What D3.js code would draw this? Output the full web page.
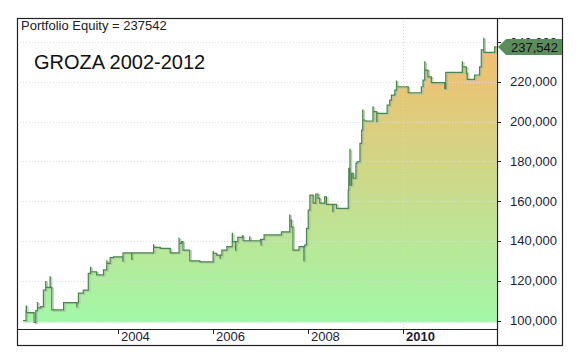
<!DOCTYPE html>
<meta charset="utf-8">
<style>
  body { margin: 0; background: #fff; }
  svg text { font-family: Arial, "Liberation Sans", sans-serif; }
</style>
<body>
<script src="https://cdn.jsdelivr.net/npm/d3@7"></script>
<script>
var dates = ["2002-01-01","2002-01-24","2002-01-26","2002-01-27","2002-03-27","2002-04-09","2002-04-22","2002-04-23",
  "2002-05-17","2002-06-07","2002-06-25","2002-06-26","2002-07-28","2002-07-29","2002-08-10","2002-11-09",
  "2003-02-19","2003-02-20","2003-03-03","2003-04-10","2003-05-18","2003-06-05","2003-06-06","2003-07-21",
  "2003-09-12","2003-10-07","2003-10-08","2003-10-09","2003-11-02","2003-11-28","2004-02-08","2004-02-09",
  "2004-04-16","2004-04-17","2004-10-01","2004-10-02","2004-11-21","2005-02-06","2005-04-15","2005-04-16",
  "2005-05-03","2005-05-15","2005-07-06","2005-09-22","2006-01-02","2006-01-03","2006-01-28","2006-02-25",
  "2006-02-26","2006-03-10","2006-04-18","2006-05-29","2006-05-30","2006-06-24","2006-06-25","2006-07-11",
  "2006-08-15","2006-08-20","2006-10-10","2006-10-11","2007-01-01","2007-01-05","2007-01-06","2007-01-29",
  "2007-06-11","2007-08-14","2007-08-15","2007-08-27","2007-09-08","2007-10-24","2007-12-01","2007-12-02",
  "2007-12-08","2007-12-21","2008-01-03","2008-01-16","2008-02-10","2008-03-01","2008-03-19","2008-04-01",
  "2008-05-09","2008-05-22","2008-07-10","2008-07-11","2008-08-08","2008-11-06","2008-11-10","2008-11-11",
  "2008-11-19","2008-11-20","2008-12-02","2008-12-14","2009-01-04","2009-01-12","2009-02-04","2009-02-17",
  "2009-02-25","2009-02-26","2009-03-13","2009-05-15","2009-05-16","2009-06-13","2009-06-14","2009-09-01",
  "2009-09-21","2009-10-04","2009-10-30","2009-11-12","2009-11-13","2010-02-10","2010-05-22","2010-06-04",
  "2010-06-17","2010-06-18","2010-07-12","2010-08-07","2010-11-18","2010-11-26","2011-04-02","2011-04-03",
  "2011-05-03","2011-05-10","2011-07-05","2011-08-13","2011-08-26","2011-09-14","2011-09-15","2011-12-07",
  "2011-12-22"];

var equity = [100000,105000,107300,104000,99000,105000,109000,106300,
  107000,115300,119500,116700,122000,116700,105300,109000,
  106800,109000,113800,115300,123700,126700,124500,122900,
  125400,128700,130000,128700,131600,132000,129800,134000,
  130700,134000,138000,136800,136300,134000,141300,138800,
  139600,135400,130000,129500,134600,133800,132900,131300,
  132900,135400,137100,143800,139600,135400,139600,141800,
  142500,140100,142000,140100,140800,138000,140800,143000,
  144600,153000,150500,147100,135400,137100,130000,137100,
  138000,146300,155500,163000,159000,163600,161400,159000,
  162200,158400,154700,158400,156400,165600,176500,168000,
  186000,168000,174000,171500,179000,179800,189000,195700,
  205800,200800,200300,207400,205000,200000,204100,208300,
  210800,213300,215800,220300,217500,214500,217500,220800,
  230000,225900,222500,219600,216500,224700,230000,227500,
  224200,221200,223400,227500,236000,241800,234800,237542,
  237542];

var yTicks = [100000, 120000, 140000, 160000, 180000, 200000, 220000, 240000];
var xTickYears = [2004, 2006, 2008, 2010];
var xGridYears = [2010];
var chartTitle = "GROZA 2002-2012";

var parse = d3.timeParse("%Y-%m-%d");
var data = dates.map(function(d, i) { return {date: parse(d), value: equity[i]}; });
var last = data[data.length - 1].value;

var frame = {left: 17, top: 18, right: 562, bottom: 345},
    plot = {left: 17, top: 18, right: 497, bottom: 329};

var svg = d3.select("body").append("svg")
  .attr("width", 580)
  .attr("height", 356);

var x = d3.scaleTime()
  .domain([new Date(2002, 0, 1), new Date(2010, 0, 1)])
  .range([23, 403]);

var y = d3.scaleLinear()
  .domain([100000, 240000])
  .range([320.5, 42]);

var defs = svg.append("defs");
var grad = defs.append("linearGradient")
  .attr("id", "fillGrad")
  .attr("gradientUnits", "userSpaceOnUse")
  .attr("x1", 0).attr("x2", 0)
  .attr("y1", y(240000)).attr("y2", y(d3.min(equity)));
grad.append("stop").attr("offset", 0).attr("stop-color", "#f4bc6c");
grad.append("stop").attr("offset", 1).attr("stop-color", "#a2f8a8");

defs.append("clipPath").attr("id", "plotClip")
  .append("rect")
  .attr("x", plot.left).attr("y", plot.top)
  .attr("width", plot.right - plot.left).attr("height", plot.bottom - plot.top);

var g = svg.append("g").attr("clip-path", "url(#plotClip)");

var area = d3.area()
  .curve(d3.curveStepAfter)
  .x(function(d) { return x(d.date); })
  .y0(y(d3.min(equity)))
  .y1(function(d) { return y(d.value); });

var line = d3.line()
  .curve(d3.curveStepAfter)
  .x(function(d) { return x(d.date); })
  .y(function(d) { return y(d.value); });

g.append("path")
  .datum(data)
  .attr("d", area)
  .style("fill", "url(#fillGrad)");

// grid
g.selectAll(".hgrid")
  .data(yTicks)
  .enter().append("line")
  .attr("x1", plot.left + 3).attr("x2", plot.right)
  .attr("y1", function(d) { return Math.round(y(d)) + 0.5; })
  .attr("y2", function(d) { return Math.round(y(d)) + 0.5; })
  .style("stroke", "#dcdcea")
  .style("stroke-dasharray", "1,2");

g.selectAll(".vgrid")
  .data(xGridYears)
  .enter().append("line")
  .attr("x1", function(d) { return Math.round(x(new Date(d, 0, 1))) + 0.5; })
  .attr("x2", function(d) { return Math.round(x(new Date(d, 0, 1))) + 0.5; })
  .attr("y1", plot.top).attr("y2", plot.bottom)
  .style("stroke", "#d4d4e2")
  .style("stroke-dasharray", "1,2");

g.append("path")
  .datum(data)
  .attr("d", line)
  .attr("transform", "translate(1.5,1)")
  .style("fill", "none")
  .style("stroke", "#a9bfa9")
  .style("stroke-opacity", 0.75)
  .style("stroke-width", 1.4);

g.append("path")
  .datum(data)
  .attr("d", line)
  .style("fill", "none")
  .style("stroke", "#4a874a")
  .style("stroke-width", 1.2);

// frame
svg.append("rect")
  .attr("x", frame.left + 0.5).attr("y", frame.top + 0.5)
  .attr("width", frame.right - frame.left).attr("height", frame.bottom - frame.top)
  .style("fill", "none").style("stroke", "#222").style("stroke-width", 1.2);

svg.append("line")
  .attr("x1", plot.right + 0.5).attr("x2", plot.right + 0.5)
  .attr("y1", frame.top).attr("y2", frame.bottom)
  .style("stroke", "#222").style("stroke-width", 1.2);

svg.append("line")
  .attr("x1", frame.left).attr("x2", plot.right)
  .attr("y1", plot.bottom + 0.5).attr("y2", plot.bottom + 0.5)
  .style("stroke", "#222").style("stroke-width", 1.2);

// y axis
var yAxis = svg.append("g");
yAxis.selectAll("line")
  .data(yTicks)
  .enter().append("line")
  .attr("x1", plot.right).attr("x2", plot.right + 4)
  .attr("y1", function(d) { return Math.round(y(d)) + 0.5; })
  .attr("y2", function(d) { return Math.round(y(d)) + 0.5; })
  .style("stroke", "#222");
yAxis.selectAll("text")
  .data(yTicks)
  .enter().append("text")
  .attr("x", 557)
  .attr("y", function(d) { return y(d) + 4.5; })
  .attr("text-anchor", "end")
  .style("font-size", "13px")
  .style("fill", "#1c1c38")
  .text(d3.format(","));

// x axis
var xAxis = svg.append("g");
xAxis.selectAll("line")
  .data(xTickYears)
  .enter().append("line")
  .attr("x1", function(d) { return Math.round(x(new Date(d, 0, 1))) + 0.5; })
  .attr("x2", function(d) { return Math.round(x(new Date(d, 0, 1))) + 0.5; })
  .attr("y1", plot.bottom).attr("y2", plot.bottom + 5)
  .style("stroke", "#222");
xAxis.selectAll("text")
  .data(xTickYears)
  .enter().append("text")
  .attr("x", function(d) { return x(new Date(d, 0, 1)) + 3; })
  .attr("y", 341)
  .style("font-size", "13px")
  .style("font-weight", function(d) { return d === 2010 ? "bold" : "normal"; })
  .style("fill", "#1c1c38")
  .text(function(d) { return d; });

// last value marker
var ly = Math.round(y(last));
svg.append("path")
  .attr("d", "M" + (plot.right + 1) + "," + ly +
    "L" + (plot.right + 9) + "," + (ly - 8) +
    "L" + frame.right + "," + (ly - 8) +
    "L" + frame.right + "," + (ly + 8) +
    "L" + (plot.right + 9) + "," + (ly + 8) + "Z")
  .style("fill", "#5b8c5b");
svg.append("text")
  .attr("x", 558)
  .attr("y", ly + 5)
  .attr("text-anchor", "end")
  .style("font-size", "13px")
  .style("fill", "#111")
  .text(d3.format(",")(last));

// titles
svg.append("text")
  .attr("x", 21).attr("y", 30)
  .style("font-size", "13px")
  .style("fill", "#222")
  .text("Portfolio Equity = " + last);

svg.append("text")
  .attr("x", 34).attr("y", 69)
  .style("font-size", "20px")
  .style("fill", "#111")
  .text(chartTitle);
</script>
</body>
